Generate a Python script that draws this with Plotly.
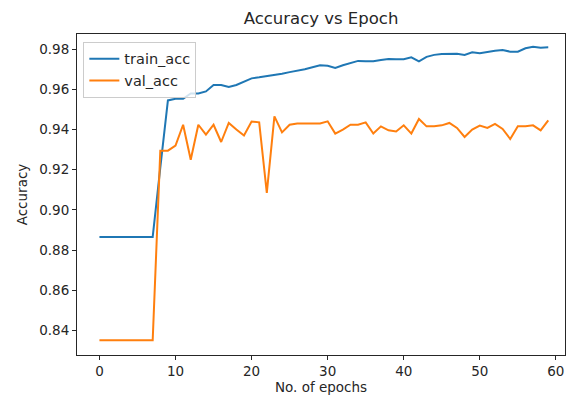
import plotly.graph_objects as go

epochs = list(range(60))
train_acc = [0.8865]*8 + [
    0.921, 0.9545, 0.9553, 0.9553, 0.958, 0.958, 0.959, 0.9622, 0.9622, 0.9612,
    0.9622, 0.964, 0.9655, 0.966, 0.9665, 0.967, 0.9678, 0.9686, 0.9692, 0.970,
    0.971, 0.972, 0.9718, 0.9707, 0.972, 0.973, 0.9742, 0.974, 0.974, 0.9747,
    0.9751, 0.975, 0.975, 0.976, 0.974, 0.9762, 0.9772, 0.9776, 0.9777, 0.9777,
    0.9772, 0.9785, 0.978, 0.9788, 0.9793, 0.9796, 0.9788, 0.9788, 0.9805, 0.9812,
    0.9808, 0.981]
val_acc = [0.835]*8 + [
    0.9295, 0.9295, 0.932, 0.9424, 0.925, 0.9424, 0.9375, 0.9424, 0.9338, 0.9433,
    0.940, 0.937, 0.944, 0.9436, 0.9085, 0.9466, 0.9386, 0.9424, 0.943, 0.943,
    0.9433, 0.943, 0.9441, 0.938, 0.940, 0.9424, 0.9424, 0.9436, 0.938, 0.9416,
    0.9396, 0.939, 0.9421, 0.938, 0.9453, 0.9416, 0.9416, 0.9421, 0.9433, 0.9408,
    0.9363, 0.940, 0.942, 0.9408, 0.9428, 0.9403, 0.9353, 0.9416, 0.9416, 0.9421,
    0.9396, 0.9446]

x_ticks = [0, 10, 20, 30, 40, 50, 60]
y_ticks = [0.84, 0.86, 0.88, 0.90, 0.92, 0.94, 0.96, 0.98]
y_tick_text = ["0.84", "0.86", "0.88", "0.90", "0.92", "0.94", "0.96", "0.98"]

font = "DejaVu Sans"
fig = go.Figure()
fig.add_trace(go.Scatter(x=epochs, y=train_acc, mode="lines", name="train_acc",
                         line=dict(color="#1f77b4", width=2)))
fig.add_trace(go.Scatter(x=epochs, y=val_acc, mode="lines", name="val_acc",
                         line=dict(color="#ff7f0e", width=2)))

fig.update_layout(
    width=566, height=402,
    margin=dict(l=77, r=1, t=34, b=47, autoexpand=False),
    paper_bgcolor="white", plot_bgcolor="white",
    font=dict(family=font, size=13.5, color="#262626"),
    title=dict(text="Accuracy vs Epoch", x=0.5, xanchor="center", xref="paper",
               y=1 - 18/402, yanchor="middle", font=dict(size=16.5, color="#262626")),
    showlegend=True,
    legend=dict(x=0.013, y=0.976, xanchor="left", yanchor="top",
                bgcolor="rgba(255,255,255,0.8)", bordercolor="#cccccc", borderwidth=1,
                font=dict(size=14.5, color="#262626"), itemwidth=30,
                tracegroupgap=2),
)
fig.update_xaxes(range=[-2.95, 61.2], tickmode="array", tickvals=x_ticks,
                 automargin=False,
                 ticks="outside", ticklen=4, tickcolor="#262626", tickwidth=1,
                 showgrid=False, zeroline=False, showline=True, linecolor="#262626",
                 linewidth=1, mirror=True,
                 title=dict(text="No. of epochs", font=dict(size=13.5), standoff=4))
fig.update_yaxes(range=[0.8277, 0.9876], tickmode="array", tickvals=y_ticks,
                 ticktext=y_tick_text, automargin=False,
                 ticks="outside", ticklen=4, tickcolor="#262626", tickwidth=1,
                 showgrid=False, zeroline=False, showline=True, linecolor="#262626",
                 linewidth=1, mirror=True,
                 title=dict(text="Accuracy", font=dict(size=13.5), standoff=8))

fig.write_html("out.html", config={"displayModeBar": False},
               post_script="document.body.style.margin='0px';document.body.style.overflow='hidden';")
